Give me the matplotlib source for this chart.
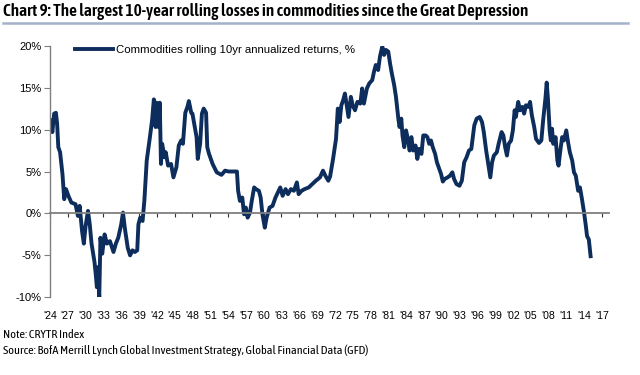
import matplotlib.pyplot as plt
from matplotlib import font_manager
from matplotlib.ticker import FuncFormatter, FixedLocator

# rolling 10yr annualized returns (%)
years = [
    1924.0, 1924.4, 1924.7, 1925.0, 1925.2, 1925.4, 1925.7, 1926.1, 1926.4, 1926.7,
    1927.1, 1927.6, 1928.3, 1928.7, 1929.0, 1929.4, 1929.7, 1930.0, 1930.4, 1930.7,
    1931.0, 1931.5, 1931.7, 1931.9, 1932.1, 1932.3, 1932.5, 1932.8, 1933.2, 1933.6,
    1934.1, 1934.7, 1935.1, 1935.5, 1936.0, 1936.3, 1936.6, 1937.1, 1937.5, 1937.9,
    1938.3, 1938.7, 1938.9, 1939.2, 1939.6, 1939.9, 1940.3, 1940.8, 1941.2, 1941.5,
    1941.8, 1942.0, 1942.3, 1942.5, 1942.7, 1942.9, 1943.3, 1943.5, 1943.9, 1944.4,
    1944.8, 1945.3, 1945.7, 1946.1, 1946.4, 1946.8, 1947.2, 1947.4, 1947.8, 1948.0,
    1948.4, 1948.7, 1948.9, 1949.3, 1949.6, 1949.9, 1950.3, 1950.5, 1950.8, 1951.4,
    1952.1, 1952.9, 1953.5, 1954.1, 1954.8, 1955.5, 1955.7, 1956.0, 1956.4, 1956.7,
    1957.0, 1957.3, 1957.7, 1958.0, 1958.4, 1958.7, 1959.2, 1959.5, 1959.8, 1960.2,
    1960.5, 1961.0, 1961.5, 1962.0, 1962.4, 1962.8, 1963.2, 1963.7, 1964.1, 1964.6,
    1965.1, 1965.6, 1965.9, 1966.4, 1966.9, 1967.6, 1968.2, 1968.8, 1969.5, 1970.0,
    1970.4, 1970.9, 1971.2, 1971.7, 1972.2, 1972.5, 1972.8, 1973.1, 1973.4, 1973.7,
    1974.0, 1974.3, 1974.7, 1975.0, 1975.4, 1975.8, 1976.3, 1976.6, 1976.9, 1977.4,
    1977.8, 1978.3, 1978.6, 1978.9, 1979.3, 1979.6, 1980.0, 1980.3, 1980.6, 1981.0,
    1981.3, 1981.6, 1982.0, 1982.3, 1982.7, 1982.9, 1983.2, 1983.4, 1983.7, 1984.0,
    1984.3, 1984.6, 1984.9, 1985.2, 1985.6, 1985.9, 1986.2, 1986.6, 1986.9, 1987.3,
    1987.6, 1987.9, 1988.2, 1988.5, 1988.9, 1989.2, 1989.5, 1989.9, 1990.2, 1990.5,
    1991.0, 1991.4, 1991.8, 1992.1, 1992.5, 1993.0, 1993.4, 1993.8, 1994.2, 1994.6,
    1995.0, 1995.5, 1995.9, 1996.4, 1996.8, 1997.1, 1997.5, 1997.8, 1998.2, 1998.5,
    1998.8, 1999.3, 1999.6, 2000.1, 2000.4, 2000.7, 2001.0, 2001.3, 2001.7, 2002.0,
    2002.3, 2002.5, 2002.9, 2003.2, 2003.6, 2003.9, 2004.2, 2004.6, 2004.9, 2005.2,
    2005.6, 2005.9, 2006.4, 2006.8, 2007.1, 2007.5, 2007.7, 2007.9, 2008.2, 2008.4,
    2008.6, 2008.8, 2009.2, 2009.5, 2009.7, 2010.0, 2010.3, 2010.6, 2011.0, 2011.3,
    2011.6, 2012.0, 2012.3, 2012.6, 2013.0, 2013.3, 2013.6, 2014.0, 2014.3, 2014.5,
    2014.8, 2015.1,
]
returns = [
    11.1, 9.7, 11.9, 12.0, 10.7, 7.9, 7.3, 4.7, 1.7, 2.9,
    2.1, 1.3, 1.1, -0.3, 0.9, -2.1, -3.6, -1.5, 0.3, -1.3,
    -3.6, -5.8, -7.2, -8.8, -6.4, -10.0, -2.9, -4.8, -2.5, -3.6,
    -3.3, -4.6, -3.6, -2.9, -1.3, 0.1, -1.7, -4.1, -5.0, -4.4,
    -4.6, -4.4, -1.3, -0.5, -0.9, 1.5, 6.3, 8.9, 11.1, 13.6,
    10.3, 13.2, 10.3, 13.2, 5.9, 8.3, 6.7, 7.3, 5.7, 5.9,
    4.3, 5.5, 8.1, 8.7, 8.3, 12.0, 12.8, 13.4, 12.0, 11.9,
    10.3, 9.1, 6.5, 8.3, 11.9, 12.5, 12.0, 7.9, 7.1, 5.9,
    4.9, 4.6, 5.1, 5.0, 5.0, 5.0, 2.7, 1.5, 1.9, -0.1,
    0.7, -0.5, 0.1, 1.5, 3.1, 2.9, 2.7, 1.9, -0.1, -1.7,
    -0.5, 0.7, 0.9, 1.9, 2.5, 3.1, 2.1, 2.9, 2.3, 2.9,
    2.7, 3.7, 2.3, 2.7, 2.9, 3.1, 3.5, 3.9, 4.3, 5.1,
    4.5, 3.9, 4.4, 6.5, 8.9, 12.5, 10.9, 12.9, 13.5, 14.3,
    12.9, 11.5, 13.9, 12.9, 12.3, 13.3, 13.1, 14.9, 13.1, 14.9,
    15.5, 15.9, 16.9, 17.7, 17.1, 18.7, 19.9, 18.9, 19.5, 19.3,
    17.9, 16.7, 15.3, 13.9, 11.3, 10.3, 11.3, 9.3, 7.9, 9.9,
    8.9, 7.5, 9.1, 7.5, 8.1, 6.5, 7.7, 7.1, 9.3, 9.3,
    9.1, 8.3, 8.7, 7.9, 7.1, 6.1, 5.5, 4.7, 3.8, 4.1,
    4.3, 4.5, 4.9, 4.1, 3.5, 3.3, 3.9, 6.1, 6.7, 7.5,
    7.7, 10.5, 11.3, 11.5, 10.9, 9.7, 7.5, 6.1, 4.3, 6.1,
    6.9, 7.3, 8.3, 9.7, 9.3, 7.9, 6.9, 8.3, 8.7, 9.9,
    12.3, 11.5, 13.3, 12.3, 12.7, 11.9, 12.9, 12.7, 13.3, 11.7,
    10.3, 8.9, 8.4, 8.7, 11.1, 13.8, 15.6, 13.8, 9.9, 8.7,
    10.1, 8.3, 9.1, 6.3, 5.7, 7.5, 9.1, 8.7, 9.9, 8.5,
    7.3, 6.3, 4.9, 4.5, 2.7, 3.1, 1.9, 0.1, -1.5, -2.7,
    -3.1, -5.1,
]
tick_years = list(range(1924, 2018, 3))
yticks = [-10, -5, 0, 5, 10, 15, 20]

title = "Chart 9: The largest 10-year rolling losses in commodities since the Great Depression"
series_name = "Commodities rolling 10yr annualized returns, %"
note = "Note: CRYTR Index"
source = "Source: BofA Merrill Lynch Global Investment Strategy, Global Financial Data (GFD)"

names = {f.name for f in font_manager.fontManager.ttflist}
narrow = "Asap Condensed" if "Asap Condensed" in names else "DejaVu Sans"
plt.rcParams["font.family"] = ["Liberation Sans", "DejaVu Sans"]

navy = "#0d2d5c"
grey = "#7f7f7f"

fig = plt.figure(figsize=(6.4, 3.75), dpi=100)
ax = fig.add_axes([50 / 640, 1 - 297.3 / 375, 559 / 640, (297.3 - 45.7) / 375])

ax.plot(years, returns, color=navy, lw=2.8, solid_joinstyle="round", label=series_name)
ax.set_xlim(1924, 2018.2)
ax.set_ylim(-10, 20)

for s in ["top", "right"]:
    ax.spines[s].set_visible(False)
ax.spines["left"].set_color(grey)
ax.spines["left"].set_linewidth(1.0)
ax.spines["bottom"].set_position(("data", 0))
ax.spines["bottom"].set_color(grey)
ax.spines["bottom"].set_linewidth(1.3)

ax.set_yticks(yticks)
ax.yaxis.set_major_formatter(FuncFormatter(lambda v, p: f"{v:.0f}%"))
ax.tick_params(axis="y", direction="out", length=4, width=0.8, color=grey,
               labelsize=8, pad=2)
ax.xaxis.set_major_locator(FixedLocator(tick_years))
ax.tick_params(axis="x", direction="out", length=3, width=0.8, color="#333333",
               labelbottom=False)

# year labels sit under the plot, not on the zero line
sec = ax.secondary_xaxis(0.0)
sec.set_xticks(tick_years)
sec.set_xticklabels([f"'{y % 100:02d}" for y in tick_years])
sec.tick_params(length=0, labelsize=7.6, pad=10)
sec.spines["bottom"].set_visible(False)

leg = ax.legend(loc="upper left", bbox_to_anchor=(20 / 559, 1.02), frameon=False,
                fontsize=8.2, handlelength=3.4, handletextpad=0.2, borderaxespad=0)

fig.text(3 / 640, 1 - 11 / 375, title, fontsize=12.4, fontweight="semibold",
         family=narrow, va="center", ha="left")
fig.add_artist(plt.Line2D([3 / 640, 628 / 640], [1 - 23 / 375] * 2,
                          color="#a3b2c9", lw=1.8))
fig.text(3 / 640, 1 - 334 / 375, note, fontsize=8.8, family=narrow, va="center")
fig.text(3 / 640, 1 - 350 / 375, source, fontsize=8.8, family=narrow, va="center")

fig.savefig("out.png", dpi=100)
